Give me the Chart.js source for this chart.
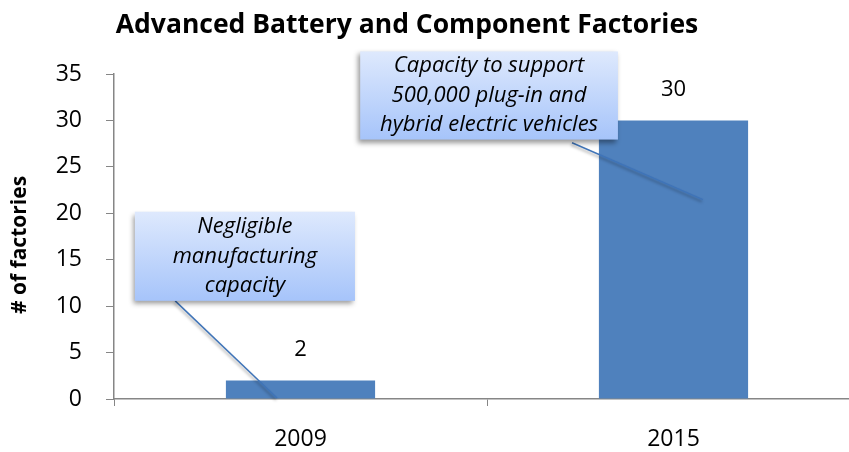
<!DOCTYPE html>
<html>
<head>
<meta charset="utf-8">
<script src="https://cdn.jsdelivr.net/npm/chart.js@4.4.0/dist/chart.umd.min.js"></script>
<style>
  html, body { margin: 0; padding: 0; background: #fff; overflow: hidden; }
  #wrap { position: relative; width: 862px; height: 452px; }
</style>
</head>
<body>
<div id="wrap"><canvas id="c"></canvas></div>
<script>
// chart data
const categories = ['2009', '2015'];
const factories = [2, 30];
const yTicks = [0, 5, 10, 15, 20, 25, 30, 35];
const chartTitle = 'Advanced Battery and Component Factories';
const yTitle = '# of factories';
const calloutTexts = [
  ['Negligible', 'manufacturing', 'capacity'],
  ['Capacity to support', '500,000 plug-in and', 'hybrid electric vehicles']
];

const FONT = '"Open Sans", sans-serif';
const BAR = '#4f81bd';

// callout placement in data units (category index, value)
const callouts = [
  { text: calloutTexts[0], box: [-0.444, 20.17, 0.146, 10.57], from: [-0.336, 10.57], to: [-0.063, 0.1] },
  { text: calloutTexts[1], box: [0.160, 37.43, 0.851, 27.94], from: [0.728, 27.6], to: [1.079, 21.47] }
];

const extras = {
  id: 'extras',
  afterDatasetsDraw(chart) {
    const { ctx, scales: { x, y } } = chart;
    ctx.save();
    // value labels
    ctx.fillStyle = '#000';
    ctx.font = '22px ' + FONT;
    ctx.textAlign = 'center';
    ctx.textBaseline = 'middle';
    chart.getDatasetMeta(0).data.forEach((bar, i) => {
      ctx.fillText(String(factories[i]), bar.x, bar.y - 31);
    });

    callouts.forEach(c => {
      const x1 = x.getPixelForValue(c.box[0]), y1 = y.getPixelForValue(c.box[1]);
      const x2 = x.getPixelForValue(c.box[2]), y2 = y.getPixelForValue(c.box[3]);
      // pointer line
      ctx.save();
      ctx.shadowColor = 'rgba(0,0,0,0.35)';
      ctx.shadowBlur = 3; ctx.shadowOffsetX = -1; ctx.shadowOffsetY = 2;
      ctx.strokeStyle = '#3f74b8';
      ctx.lineWidth = 1.5;
      ctx.beginPath();
      ctx.moveTo(x.getPixelForValue(c.from[0]), y.getPixelForValue(c.from[1]));
      ctx.lineTo(x.getPixelForValue(c.to[0]), y.getPixelForValue(c.to[1]));
      ctx.stroke();
      ctx.restore();
      // box
      ctx.save();
      ctx.shadowColor = 'rgba(0,0,0,0.4)';
      ctx.shadowBlur = 5; ctx.shadowOffsetX = -2; ctx.shadowOffsetY = 3;
      const g = ctx.createLinearGradient(0, y1, 0, y2);
      g.addColorStop(0, '#dee9fd');
      g.addColorStop(1, '#a6c4fa');
      ctx.fillStyle = g;
      ctx.fillRect(x1, y1, x2 - x1, y2 - y1);
      ctx.restore();
      // text
      ctx.fillStyle = '#000';
      ctx.font = 'italic 22px ' + FONT;
      const cx = (x1 + x2) / 2, lh = 29.5;
      const top = (y1 + y2) / 2 - lh;
      c.text.forEach((t, i) => ctx.fillText(t, cx, top + i * lh));
    });

    // titles
    ctx.font = 'bold 26.5px ' + FONT;
    ctx.fillText(chartTitle, 407, 25);
    ctx.translate(20, 245);
    ctx.rotate(-Math.PI / 2);
    ctx.font = 'bold 21px ' + FONT;
    ctx.fillText(yTitle, 0, 0);
    ctx.restore();
  }
};

new Chart(document.getElementById('c'), {
  type: 'bar',
  data: {
    labels: categories,
    datasets: [{ data: factories, backgroundColor: BAR, categoryPercentage: 1, barPercentage: 0.4 }]
  },
  options: {
    responsive: true,
    maintainAspectRatio: false,
    animation: false,
    layout: { padding: { top: 74, left: 0, right: 2, bottom: 0 } },
    plugins: { legend: { display: false }, tooltip: { enabled: false }, title: { display: false } },
    scales: {
      x: {
        grid: { drawOnChartArea: false, tickLength: 7, color: '#868686', offset: true },
        border: { color: '#868686', width: 1.5 },
        ticks: { color: '#000', font: { family: FONT, size: 23 }, padding: 20 },
        afterFit(s) { s.height = 53; }
      },
      y: {
        min: 0, max: 35,
        afterBuildTicks(s) { s.ticks = yTicks.map(v => ({ value: v })); },
        grid: { drawOnChartArea: false, tickLength: 8, color: '#868686' },
        border: { color: '#868686', width: 1.5 },
        ticks: { color: '#000', font: { family: FONT, size: 23 }, padding: 24 },
        afterFit(s) { s.width = 114; }
      }
    }
  },
  plugins: [extras]
});
</script>
</body>
</html>
